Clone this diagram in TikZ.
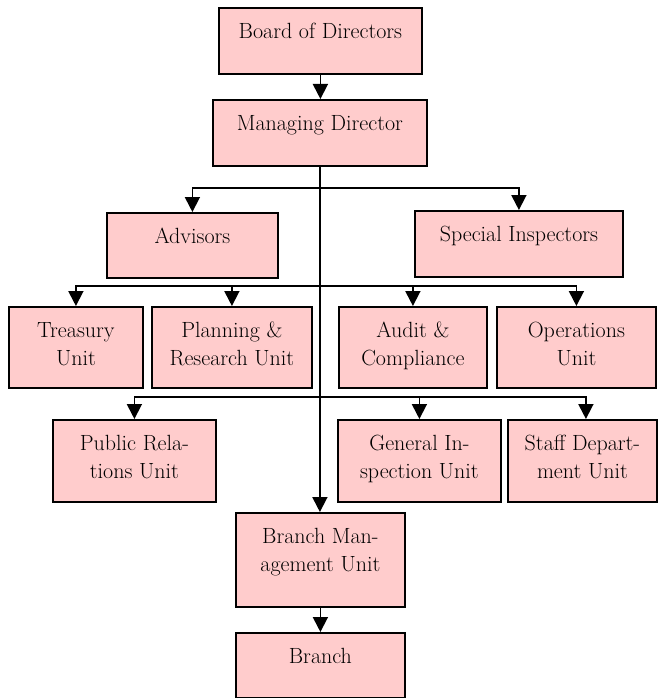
\documentclass[tikz,border=0pt]{standalone}
\usetikzlibrary{arrows.meta}
\definecolor{boxpink}{RGB}{255,204,204}
\newcommand{\orgbox}[3]{\parbox[t][#2][t]{#1}{\centering\fontsize{22}{28}\selectfont\rule{0pt}{31pt}#3}}
\begin{document}
\begin{tikzpicture}[x=1pt,y=-1pt,
  orgnode/.style={draw=black, fill=boxpink, line width=1.8pt, inner sep=0pt, anchor=north west},
  conn/.style={line width=1.8pt, -{Triangle[width=15pt,length=15pt]}}]
\useasboundingbox (0,0) rectangle (657,698);
\node[orgnode] (board) at (218,7) {\orgbox{203pt}{66pt}{Board of Directors}};
\node[orgnode] (md) at (212,99) {\orgbox{214pt}{66pt}{Managing Director}};
\node[orgnode] (adv) at (106,212) {\orgbox{171pt}{65pt}{Advisors}};
\node[orgnode] (spec) at (414,210) {\orgbox{208pt}{66pt}{Special Inspectors}};
\node[orgnode] (treas) at (8,306) {\orgbox{134pt}{81pt}{Treasury\\Unit}};
\node[orgnode] (plan) at (151,306) {\orgbox{160pt}{81pt}{Planning \&\\Research Unit}};
\node[orgnode] (audit) at (338,306) {\orgbox{148pt}{81pt}{Audit \&\\Compliance}};
\node[orgnode] (ops) at (496,306) {\orgbox{159pt}{81pt}{Operations\\Unit}};
\node[orgnode] (pr) at (52,419) {\orgbox{163pt}{82pt}{Public Rela-\\tions Unit}};
\node[orgnode] (gen) at (337,419) {\orgbox{163pt}{82pt}{General In-\\spection Unit}};
\node[orgnode] (staff) at (507,419) {\orgbox{149pt}{82pt}{Staff Depart-\\ment Unit}};
\node[orgnode] (bmu) at (235,512) {\orgbox{169pt}{94pt}{Branch Man-\\agement Unit}};
\node[orgnode] (branch) at (235,632) {\orgbox{169pt}{65pt}{Branch}};
\coordinate (j1) at (319,188);
\coordinate (j2) at (319,286);
\coordinate (j3) at (319,397);
\draw[conn] (board.south) -- (board.south |- md.north);
\draw[conn] (md.south) -- (md.south |- bmu.north);
\draw[conn] (j1) -| (adv.north);
\draw[conn] (j1) -| (spec.north);
\draw[conn] (j2) -| (treas.north);
\draw[conn] (j2) -| (plan.north);
\draw[conn] (j2) -| (audit.north);
\draw[conn] (j2) -| (ops.north);
\draw[conn] (j3) -| (pr.north);
\draw[conn] (j3) -| (gen.north);
\draw[conn] (j3) -| ([xshift=3.5pt]staff.north);
\draw[conn] (bmu.south) -- (bmu.south |- branch.north);
\end{tikzpicture}
\end{document}
